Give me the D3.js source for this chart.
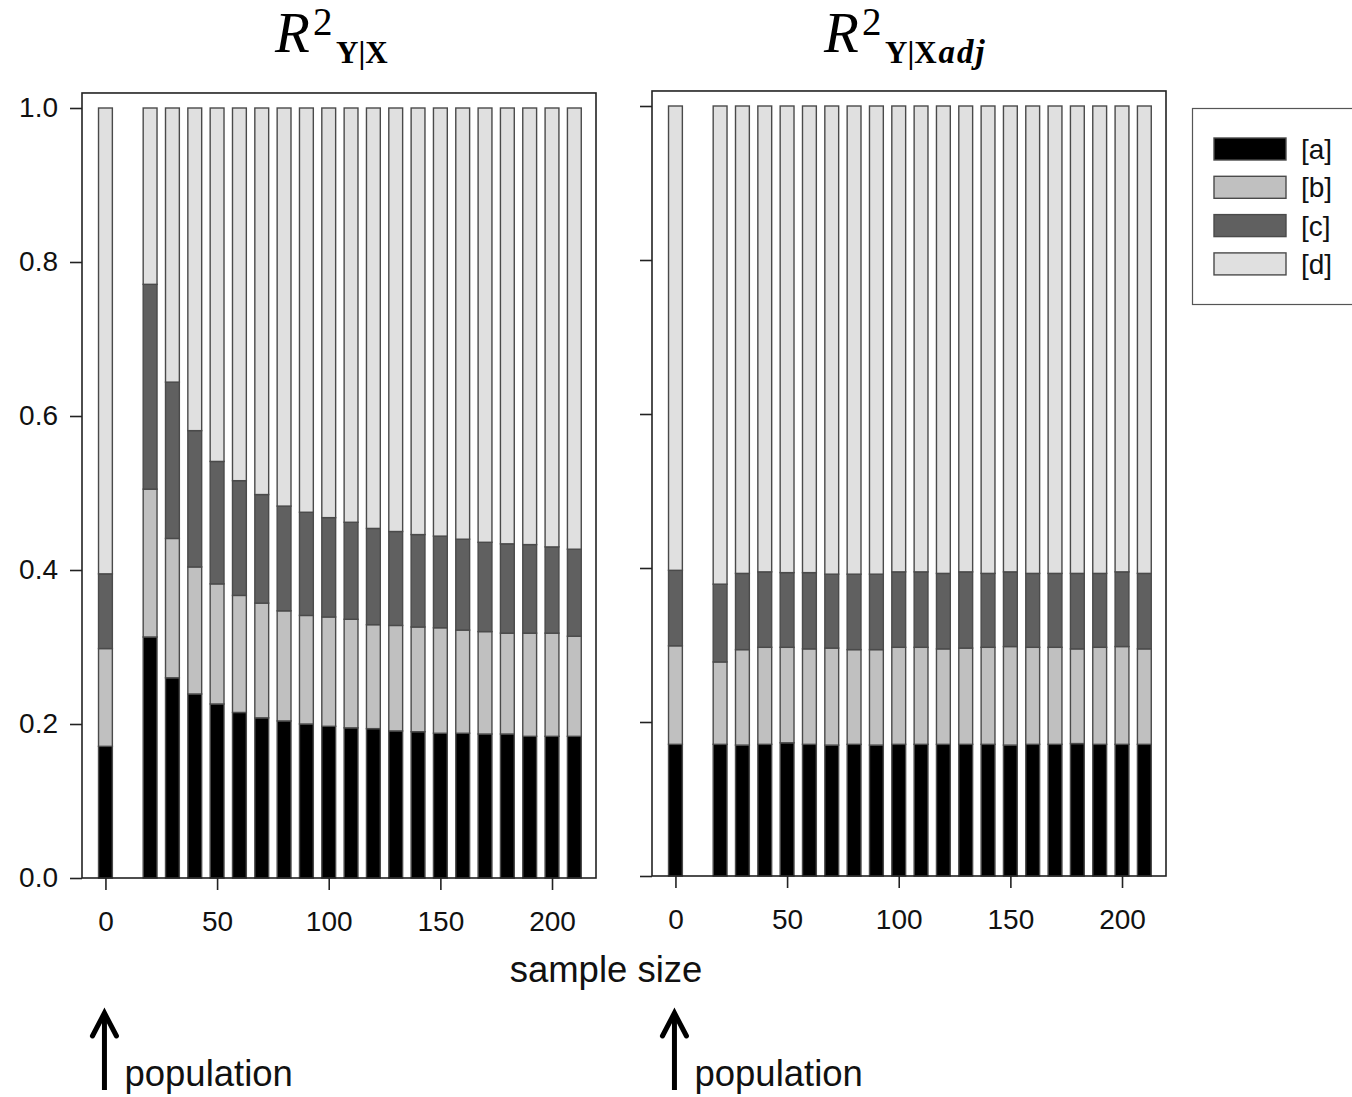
<!DOCTYPE html>
<html>
<head>
<meta charset="utf-8">
<script src="https://cdn.jsdelivr.net/npm/d3@7"></script>
<style>
  body { margin: 0; background: #fff; }
</style>
</head>
<body>
<div id="chart"></div>
<script>
// sample sizes (0 = population)
var sampleSizes = [0, 20, 30, 40, 50, 60, 70, 80, 90, 100, 110, 120, 130, 140, 150, 160, 170, 180, 190, 200, 210];

// left panel: R2 Y|X  fractions [a], [b], [c], [d]
var leftA = [0.171, 0.313, 0.260, 0.239, 0.226, 0.215, 0.208, 0.204, 0.200, 0.197, 0.195, 0.194, 0.191, 0.190, 0.188, 0.188, 0.187, 0.187, 0.184, 0.184, 0.184];
var leftB = [0.127, 0.192, 0.181, 0.165, 0.156, 0.152, 0.149, 0.143, 0.141, 0.142, 0.141, 0.135, 0.137, 0.136, 0.137, 0.134, 0.133, 0.131, 0.134, 0.134, 0.130];
var leftC = [0.097, 0.266, 0.203, 0.177, 0.159, 0.149, 0.141, 0.136, 0.134, 0.129, 0.126, 0.125, 0.122, 0.120, 0.119, 0.118, 0.116, 0.116, 0.115, 0.112, 0.113];
var leftD = [0.605, 0.229, 0.356, 0.419, 0.459, 0.484, 0.502, 0.517, 0.525, 0.532, 0.538, 0.546, 0.550, 0.554, 0.556, 0.560, 0.564, 0.566, 0.567, 0.570, 0.573];

// right panel: R2 Y|X adj
var rightA = [0.171, 0.171, 0.170, 0.171, 0.173, 0.171, 0.170, 0.171, 0.170, 0.171, 0.171, 0.171, 0.171, 0.171, 0.170, 0.171, 0.171, 0.172, 0.171, 0.171, 0.171];
var rightB = [0.128, 0.107, 0.124, 0.126, 0.124, 0.124, 0.126, 0.123, 0.124, 0.126, 0.126, 0.124, 0.125, 0.126, 0.128, 0.126, 0.126, 0.123, 0.126, 0.127, 0.124];
var rightC = [0.098, 0.101, 0.099, 0.098, 0.097, 0.099, 0.096, 0.098, 0.098, 0.098, 0.098, 0.098, 0.099, 0.096, 0.097, 0.096, 0.096, 0.098, 0.096, 0.097, 0.098];
var rightD = [0.603, 0.621, 0.607, 0.605, 0.606, 0.606, 0.608, 0.608, 0.608, 0.605, 0.605, 0.607, 0.605, 0.607, 0.605, 0.607, 0.607, 0.607, 0.607, 0.605, 0.607];

var partKeys = ["a", "b", "c", "d"];
var legendLabels = ["[a]", "[b]", "[c]", "[d]"];
var partColors = ["#000000", "#c0c0c0", "#606060", "#e0e0e0"];

var yTicks = [0, 0.2, 0.4, 0.6, 0.8, 1.0];
var xTicks = [0, 50, 100, 150, 200];

var svgWidth = 1352;
var svgHeight = 1097;

var sans = "Liberation Sans, Arial, sans-serif";
var serif = "Liberation Serif, Times New Roman, serif";

var svg = d3.select("#chart")
    .append("svg")
    .attr("width", svgWidth)
    .attr("height", svgHeight)
    .attr("font-family", sans);

// build rows for stacking
function makeRows(a, b, c, d) {
    return sampleSizes.map(function(n, i) {
        return { n: n, a: a[i], b: b[i], c: c[i], d: d[i] };
    });
}

var stack = d3.stack().keys(partKeys);

function drawPanel(opts) {
    var rows = makeRows(opts.a, opts.b, opts.c, opts.d);
    var series = stack(rows);

    var xScale = d3.scaleLinear()
        .domain([-10.5, 219.7])
        .range([opts.left, opts.right]);

    var yScale = d3.scaleLinear()
        .domain([0, 1])
        .range([opts.bottom, opts.bottom - 770]);

    var g = svg.append("g");

    // bars
    g.selectAll("g.part")
        .data(series)
        .enter()
        .append("g")
        .attr("fill", function(s, i) { return partColors[i]; })
        .selectAll("rect")
        .data(function(s) { return s; })
        .enter()
        .append("rect")
        .attr("x", function(d) { return xScale(d.data.n - 3.1); })
        .attr("width", function(d) { return xScale(d.data.n + 3.1) - xScale(d.data.n - 3.1); })
        .attr("y", function(d) { return yScale(d[1]); })
        .attr("height", function(d) { return yScale(d[0]) - yScale(d[1]); })
        .attr("stroke", "#4a4a4a")
        .attr("stroke-width", 1.4);

    // box
    g.append("rect")
        .attr("x", opts.left)
        .attr("y", yScale(1.0195))
        .attr("width", opts.right - opts.left)
        .attr("height", opts.bottom - yScale(1.0195))
        .attr("fill", "none")
        .attr("stroke", "#222")
        .attr("stroke-width", 1.6);

    // y axis
    var yAxis = d3.axisLeft(yScale)
        .tickValues(yTicks)
        .tickSize(12)
        .tickPadding(12)
        .tickFormat(opts.yLabels ? d3.format(".1f") : "");
    var yg = g.append("g")
        .attr("transform", `translate(${opts.left}, 0)`)
        .call(yAxis);
    yg.select(".domain").remove();
    yg.selectAll(".tick line").attr("stroke", "#222").attr("stroke-width", 1.6);
    yg.selectAll(".tick text")
        .attr("font-size", 28)
        .attr("font-family", sans)
        .attr("fill", "#111");

    // x axis
    var xAxis = d3.axisBottom(xScale)
        .tickValues(xTicks)
        .tickSize(12)
        .tickPadding(21)
        .tickFormat(d3.format("d"));
    var xg = g.append("g")
        .attr("transform", `translate(0, ${opts.bottom})`)
        .call(xAxis);
    xg.select(".domain").remove();
    xg.selectAll(".tick line").attr("stroke", "#222").attr("stroke-width", 1.6);
    xg.selectAll(".tick text")
        .attr("font-size", 28)
        .attr("font-family", sans)
        .attr("fill", "#111");

    // population arrow
    var ax = xScale(0) - 1;
    g.append("line")
        .attr("x1", ax).attr("x2", ax)
        .attr("y1", 1014).attr("y2", 1090)
        .attr("stroke", "#000").attr("stroke-width", 5);
    g.append("path")
        .attr("d", `M${ax - 12},${1036} L${ax},${1013} L${ax + 12},${1036}`)
        .attr("fill", "none")
        .attr("stroke", "#000")
        .attr("stroke-width", 5)
        .attr("stroke-linecap", "round")
        .attr("stroke-linejoin", "miter");
    g.append("text")
        .attr("x", ax + 20)
        .attr("y", 1086)
        .attr("font-size", 36.5)
        .attr("fill", "#111")
        .text("population");

    // title
    var t = svg.append("text")
        .attr("y", 52)
        .attr("font-family", serif)
        .attr("fill", "#000");
    t.append("tspan")
        .attr("x", opts.titleX)
        .attr("font-style", "italic")
        .attr("font-size", 57)
        .text("R");
    t.append("tspan")
        .attr("x", opts.titleX + 38)
        .attr("dy", -17)
        .attr("font-size", 39)
        .text("2");
    t.append("tspan")
        .attr("x", opts.titleX + 61)
        .attr("dy", 28)
        .attr("font-size", 31)
        .attr("font-weight", "bold")
        .text("Y|X");
    if (opts.adj) {
        t.append("tspan")
            .attr("dx", 2)
            .attr("font-size", 33)
            .attr("letter-spacing", 2)
            .attr("font-weight", "bold")
            .attr("font-style", "italic")
            .text("adj");
    }
}

drawPanel({ a: leftA, b: leftB, c: leftC, d: leftD, left: 82, right: 596, bottom: 878,
            yLabels: true, titleX: 275, adj: false });
drawPanel({ a: rightA, b: rightB, c: rightC, d: rightD, left: 652, right: 1166, bottom: 876,
            yLabels: false, titleX: 824, adj: true });

// x label
svg.append("text")
    .attr("x", 606)
    .attr("y", 982)
    .attr("text-anchor", "middle")
    .attr("font-size", 36.5)
    .attr("fill", "#111")
    .text("sample size");

// legend
var legend = svg.append("g");
legend.append("rect")
    .attr("x", 1192.5)
    .attr("y", 108.5)
    .attr("width", 200)
    .attr("height", 196)
    .attr("fill", "#fff")
    .attr("stroke", "#555")
    .attr("stroke-width", 1.2);

var items = legend.selectAll("g.item")
    .data(legendLabels)
    .enter()
    .append("g")
    .attr("transform", function(d, i) { return `translate(1214, ${138 + i * 38.3})`; });
items.append("rect")
    .attr("width", 72)
    .attr("height", 22)
    .attr("fill", function(d, i) { return partColors[i]; })
    .attr("stroke", "#4a4a4a")
    .attr("stroke-width", 1.4);
items.append("text")
    .attr("x", 87)
    .attr("y", 21)
    .attr("font-size", 28)
    .attr("fill", "#111")
    .text(function(d) { return d; });
</script>
</body>
</html>
